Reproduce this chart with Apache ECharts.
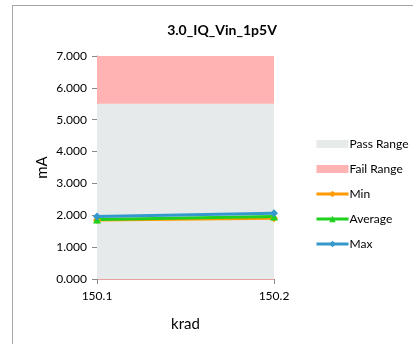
<!DOCTYPE html>
<html><head><meta charset="utf-8">
<script src="https://cdn.jsdelivr.net/npm/echarts@6/dist/echarts.min.js"></script>
<style>
html,body{margin:0;padding:0;background:#fff;}
#frame{position:absolute;left:12px;top:5px;width:420px;height:360px;border:1px solid #a6a6a6;box-sizing:border-box;}
#c{position:absolute;left:0;top:0;width:413px;height:344px;}
</style></head>
<body><div id="frame"></div><div id="c"></div>
<script>
var categories = ['150.1', '150.2'];
var passRange = [5.5, 5.5];
var failRange = [1.5, 1.5];
var minVals = [1.85, 1.91];
var avgVals = [1.87, 1.96];
var maxVals = [1.96, 2.06];
var yTicks = { min: 0, max: 7, interval: 1 };

var font = 'Lato, "Open Sans", sans-serif';
var chart = echarts.init(document.getElementById('c'));
chart.setOption({
  animation: false,
  textStyle: { fontFamily: font },
  title: { text: '3.0_IQ_Vin_1p5V', left: 217, top: 18, textAlign: 'center',
    textStyle: { fontSize: 14, fontWeight: 'bold', color: '#000', fontFamily: font } },
  grid: { left: 97, right: 139, top: 56, bottom: 65 },
  legend: {
    orient: 'vertical', left: 310, top: 133, itemGap: 13, itemWidth: 32, itemHeight: 8,
    textStyle: { fontSize: 12, color: '#000', fontFamily: font, padding: [0,0,0,-4] },
    data: [
      { name: 'Pass Range', icon: 'rect' },
      { name: 'Fail Range', icon: 'rect' },
      { name: 'Min', lineStyle: { width: 3 } },
      { name: 'Average', lineStyle: { width: 3 } },
      { name: 'Max', lineStyle: { width: 3 } }
    ]
  },
  xAxis: {
    type: 'category', data: categories, boundaryGap: false,
    name: 'krad', nameLocation: 'middle', nameGap: 38,
    nameTextStyle: { fontSize: 15, color: '#000' },
    axisLine: { lineStyle: { color: '#e8a0a0', width: 1 } },
    axisTick: { show: true, alignWithLabel: true, lineStyle: { color: '#888' } },
    axisLabel: { fontSize: 12, color: '#000', margin: 11 },
    splitLine: { show: false }
  },
  yAxis: {
    type: 'value', min: yTicks.min, max: yTicks.max, interval: yTicks.interval,
    name: 'mA', nameLocation: 'middle', nameGap: 47, nameRotate: 90,
    nameTextStyle: { fontSize: 15, color: '#000' },
    axisLine: { show: true, lineStyle: { color: '#888' } },
    axisTick: { show: true, lineStyle: { color: '#888' } },
    axisLabel: { fontSize: 12, color: '#000', margin: 10, formatter: function (v) { return v.toFixed(3); } },
    splitLine: { show: false }
  },
  series: [
    { name: 'Pass Range', type: 'line', stack: 'r', data: passRange, symbol: 'none',
      lineStyle: { width: 0 }, areaStyle: { color: '#e6eaea', opacity: 1 }, itemStyle: { color: '#e6eaea' } },
    { name: 'Fail Range', type: 'line', stack: 'r', data: failRange, symbol: 'none',
      lineStyle: { width: 0 }, areaStyle: { color: '#ffb3b3', opacity: 1 }, itemStyle: { color: '#ffb3b3' } },
    { name: 'Min', type: 'line', data: minVals, symbol: 'diamond', symbolSize: 8,
      lineStyle: { color: '#ff9a00', width: 3 }, itemStyle: { color: '#ff9a00' } },
    { name: 'Average', type: 'line', data: avgVals, symbol: 'triangle', symbolSize: 8,
      lineStyle: { color: '#1fd01f', width: 3 }, itemStyle: { color: '#1fd01f' } },
    { name: 'Max', type: 'line', data: maxVals, symbol: 'diamond', symbolSize: 8,
      lineStyle: { color: '#3399cc', width: 3 }, itemStyle: { color: '#3399cc' } }
  ]
});
</script></body></html>
